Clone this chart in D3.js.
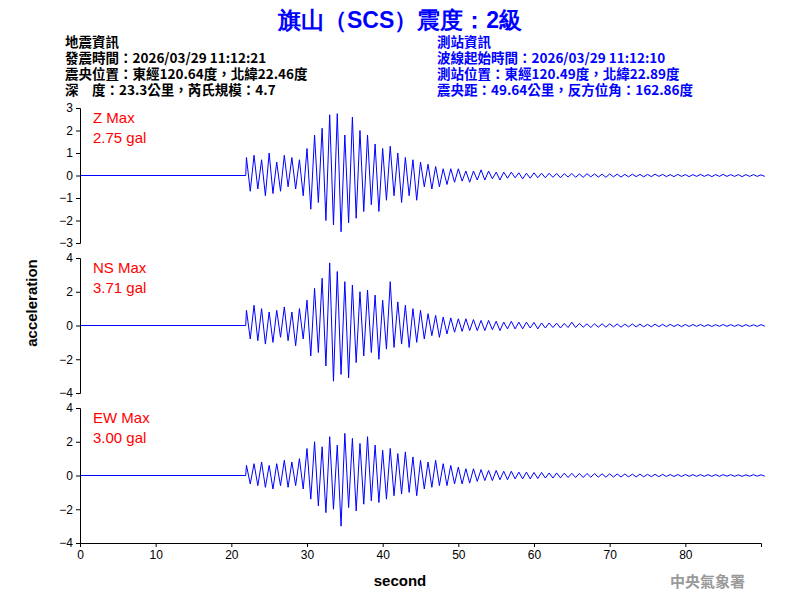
<!DOCTYPE html><html><head><meta charset="utf-8"><script src="https://cdn.jsdelivr.net/npm/d3@7"></script>
<style>body{margin:0;background:#fff}svg{font-family:Arial,"Liberation Sans",sans-serif}</style></head><body><svg id="c" width="800" height="600"></svg>
<script>
const t0=22, dt=0.5;
const zVals=[0.8,-0.7,0.9,-0.6,0.7,-0.9,1.0,-0.8, 0.6,-0.7,0.9,-0.5,0.8,-0.6,0.7,-0.9,
1.2,-1.5,1.8,-1.2,2.1,-2.0,2.7,-2.2, 2.75,-2.5,1.8,-2.1,2.6,-1.9,2.0,-1.6,
1.8,-1.3,1.4,-1.6,1.2,-1.1,1.3,-0.9, 1.0,-1.2,0.8,-0.9,0.7,-1.1,0.6,-0.5,
0.5,-0.6,0.4,-0.5,0.3,-0.4,0.3,-0.3, 0.3,-0.25,0.2,-0.3,0.2,-0.2,0.25,-0.2,
0.2,-0.15,0.15,-0.2,0.15,-0.12,0.15,-0.1,0.12,-0.15,0.1,-0.12,0.12,-0.1,0.1,-0.1,
0.1,-0.08,0.09,-0.1,0.08,-0.07,0.09,-0.08,0.07,-0.08,0.08,-0.06,0.07,-0.07,0.06,-0.08,
0.07,-0.06,0.06,-0.07,0.05,-0.06,0.06,-0.05,0.05,-0.06,0.05,-0.05,0.06,-0.04,0.05,-0.05,
0.04,-0.05,0.05,-0.04,0.04,-0.05,0.04,-0.04,0.05,-0.04,0.04,-0.05,
0.04,-0.04,0.05,-0.04,0.04,-0.04,0.04,-0.05,0.04,-0.04,0.04,-0.04,0.03,-0.04];
const nsVals=[0.9,-0.8,1.2,-0.9,1.0,-1.1,0.8,-1.0, 0.9,-0.7,1.1,-0.9,0.8,-1.2,1.0,-0.8,
1.5,-1.8,2.2,-1.6,2.8,-2.4,3.71,-3.3, 3.2,-2.9,2.6,-3.1,2.4,-2.2,2.0,-1.8,
2.1,-1.6,1.8,-2.0,1.5,-1.4,2.6,-1.3, 1.4,-1.1,1.2,-1.3,1.0,-1.0,0.9,-0.8,
0.7,-0.6,0.6,-0.7,0.5,-0.5,0.45,-0.4, 0.4,-0.35,0.4,-0.3,0.35,-0.3,0.3,-0.3,
0.3,-0.25,0.25,-0.3,0.2,-0.2,0.25,-0.2,0.2,-0.2,0.2,-0.15,0.18,-0.2,0.15,-0.15,
0.15,-0.12,0.14,-0.15,0.12,-0.12,0.2,-0.12,0.12,-0.1,0.1,-0.12,0.1,-0.1,0.1,-0.1,
0.1,-0.08,0.09,-0.1,0.08,-0.08,0.09,-0.08,0.08,-0.08,0.07,-0.08,0.08,-0.07,0.07,-0.07,
0.07,-0.06,0.06,-0.07,0.06,-0.06,0.06,-0.05,0.06,-0.06,0.05,-0.06,
0.05,-0.05,0.06,-0.05,0.05,-0.05,0.05,-0.06,0.05,-0.05,0.04,-0.05,0.05,-0.04];
const ewVals=[0.6,-0.5,0.7,-0.6,0.8,-0.7,0.6,-0.8, 0.7,-0.6,0.9,-0.7,0.8,-0.6,1.0,-0.8,
1.6,-1.4,2.0,-1.8,1.7,-2.2,2.3,-2.0, 1.8,-3.0,2.5,-1.9,2.2,-2.1,1.9,-1.7,
2.3,-1.5,1.8,-1.6,1.5,-1.4,1.6,-1.2, 1.3,-1.1,1.4,-1.0,1.1,-1.2,0.9,-0.8,
0.8,-0.7,0.9,-0.6,0.7,-0.6,0.6,-0.5, 0.5,-0.5,0.4,-0.45,0.4,-0.35,0.35,-0.3,
0.3,-0.3,0.3,-0.25,0.25,-0.25,0.25,-0.2,0.2,-0.2,0.2,-0.2,0.18,-0.18,0.18,-0.15,
0.15,-0.15,0.15,-0.14,0.14,-0.12,0.13,-0.12,0.12,-0.12,0.12,-0.1,0.11,-0.1,0.1,-0.1,
0.1,-0.09,0.09,-0.09,0.09,-0.08,0.08,-0.08,0.08,-0.08,0.07,-0.07,0.07,-0.07,0.07,-0.06,
0.06,-0.06,0.06,-0.06,0.06,-0.05,0.05,-0.05,0.05,-0.05,0.05,-0.05,
0.05,-0.05,0.05,-0.04,0.05,-0.05,0.04,-0.05,0.04,-0.04,0.05,-0.04,0.04,-0.04];
const panels=[{vals:zVals,lab:"Z Max",max:"2.75 gal",lim:3,ticks:[3,2,1,0,-1,-2,-3],top:108},
{vals:nsVals,lab:"NS Max",max:"3.71 gal",lim:4,ticks:[4,2,0,-2,-4],top:258},
{vals:ewVals,lab:"EW Max",max:"3.00 gal",lim:4,ticks:[4,2,0,-2,-4],top:408}];
const xTicks=[0,10,20,30,40,50,60,70,80];
const svg=d3.select("#c");
const x=d3.scaleLinear().domain([0,90]).range([80,761]);
svg.append("text").attr("x",400).attr("y",28).attr("text-anchor","middle").attr("fill","#0000ff").attr("font-weight","bold").attr("font-size",23).text("旗山（SCS）震度：2級");
const L=["地震資訊","發震時間：2026/03/29 11:12:21","震央位置：東經120.64度，北緯22.46度","深　度：23.3公里，芮氏規模：4.7"];
const R=["測站資訊","波線起始時間：2026/03/29 11:12:10","測站位置：東經120.49度，北緯22.89度","震央距：49.64公里，反方位角：162.86度"];
[[L,65,"#000"],[R,437,"#0000ff"]].forEach(([arr,xx,c])=>arr.forEach((s,i)=>svg.append("text").attr("x",xx).attr("y",47+i*16).attr("fill",c).attr("font-size",13.5).attr("font-weight","bold").attr("font-family","'Noto Sans CJK TC',sans-serif").text(s)));
panels.forEach(p=>{
  const y=d3.scaleLinear().domain([-p.lim,p.lim]).range([p.top+135,p.top]);
  const pts=[[0,0],[t0-0.1,0]].concat(p.vals.map((v,i)=>[t0+i*dt,v]));
  svg.append("path").attr("d",d3.line().x(d=>x(d[0])).y(d=>y(d[1]))(pts)).attr("fill","none").attr("stroke","#0000ff").attr("stroke-width",1);
  const g=svg.append("g").attr("transform","translate(80,0)").call(d3.axisLeft(y).tickValues(p.ticks).tickSize(4).tickFormat(d3.format("d")));
  g.select(".domain").attr("stroke","#000");
  g.selectAll("text").attr("font-size",12).attr("fill","#000");
  svg.append("text").attr("x",93).attr("y",p.top+15).attr("fill","#ff0000").attr("font-size",15).text(p.lab);
  svg.append("text").attr("x",93).attr("y",p.top+35).attr("fill","#ff0000").attr("font-size",15).text(p.max);
});
const gx=svg.append("g").attr("transform","translate(0,543)").call(d3.axisBottom(x).tickValues(xTicks).tickSize(4).tickFormat(d3.format("d")));
gx.selectAll("text").attr("font-size",12).attr("fill","#000");
svg.append("text").attr("x",400).attr("y",586).attr("text-anchor","middle").attr("font-size",15).attr("font-weight","bold").text("second");
svg.append("text").attr("transform","translate(37,303) rotate(-90)").attr("text-anchor","middle").attr("font-size",15).attr("font-weight","bold").text("acceleration");
svg.append("text").attr("x",745).attr("y",587).attr("text-anchor","end").attr("fill","#999").attr("font-size",15).attr("font-weight","bold").attr("font-family","'Noto Sans CJK TC',serif").text("中央氣象署");
</script></body></html>
